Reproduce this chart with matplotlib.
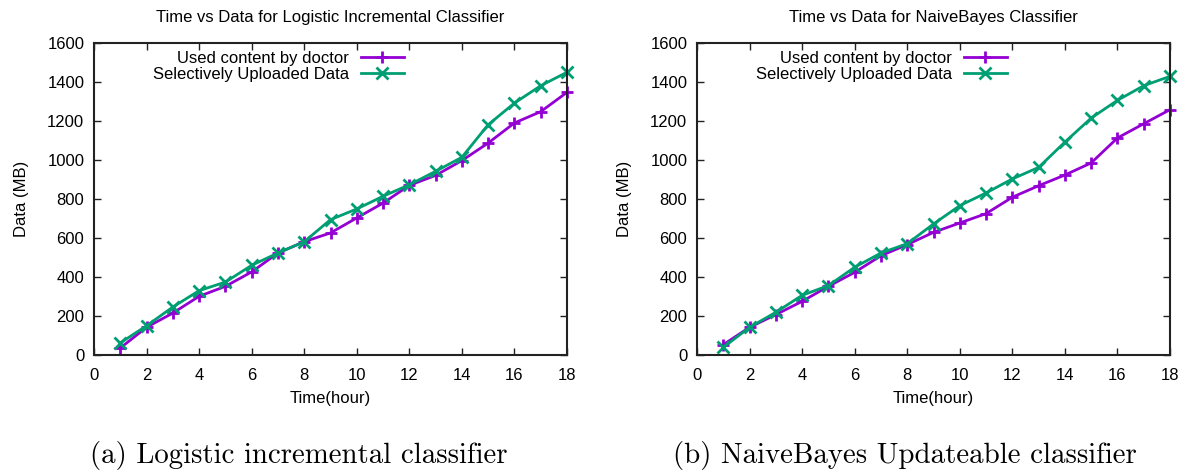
import matplotlib
matplotlib.use("Agg")
import matplotlib.pyplot as plt

hours = list(range(1, 19))

# Left: Logistic incremental classifier
log_used = [36, 142, 215, 301, 352, 426, 523, 581, 626, 703, 779, 870, 921, 997, 1087, 1190, 1248, 1347]
log_upload = [62, 150, 246, 330, 374, 460, 523, 581, 694, 749, 814, 873, 942, 1014, 1181, 1292, 1381, 1450]

# Right: NaiveBayes Updateable classifier
nb_used = [53, 142, 207, 275, 352, 424, 509, 566, 629, 677, 725, 809, 868, 923, 985, 1113, 1186, 1258]
nb_upload = [39, 142, 219, 306, 356, 450, 523, 571, 672, 766, 831, 903, 962, 1092, 1215, 1306, 1381, 1429]

titles = ["Time vs Data for Logistic Incremental Classifier",
          "Time vs Data for NaiveBayes Classifier"]
captions = ["(a) Logistic incremental classifier",
            "(b) NaiveBayes Updateable classifier"]
series_labels = ["Used content by doctor", "Selectively Uploaded Data"]
xticks = list(range(0, 19, 2))
yticks = list(range(0, 1601, 200))

PURPLE = "#9400D3"
GREEN = "#009E73"
FONT = ["Liberation Sans", "DejaVu Sans"]
FS = 12

W, H = 1187, 473
fig = plt.figure(figsize=(W / 100, H / 100), dpi=100)

axes_px = [(94, 43, 473, 312), (697, 43, 473, 312)]
data = [(log_used, log_upload), (nb_used, nb_upload)]
cap_x = [299, 905]

for i, (x0, y0, w, h) in enumerate(axes_px):
    ax = fig.add_axes([x0 / W, 1 - (y0 + h) / H, w / W, h / H])
    used, upload = data[i]
    ax.plot(hours, used, color=PURPLE, lw=2, marker="+", ms=9, mew=2,
            label=series_labels[0], clip_on=False)
    ax.plot(hours, upload, color=GREEN, lw=2, marker="x", ms=8, mew=2,
            label=series_labels[1], clip_on=False)
    ax.set_xlim(0, 18)
    ax.set_ylim(0, 1600)
    ax.set_xticks(xticks)
    ax.set_yticks(yticks)
    ax.tick_params(direction="in", top=True, right=True, length=5, width=1,
                   labelsize=FS, color="#222222")
    ax.tick_params(axis="x", pad=9)
    ax.tick_params(axis="y", pad=7)
    for lab in ax.get_xticklabels() + ax.get_yticklabels():
        lab.set_family(FONT)
    for sp in ax.spines.values():
        sp.set_linewidth(1.5)
        sp.set_color("#222222")
    ax.set_title(titles[i], fontsize=FS, family=FONT, pad=15)
    ax.set_xlabel("Time(hour)", fontsize=FS, family=FONT, labelpad=6)
    ax.set_ylabel("Data (MB)", fontsize=FS, family=FONT, labelpad=13)
    leg = ax.legend(loc="upper right", bbox_to_anchor=(0.687, 1.022),
                    frameon=False, markerfirst=False,
                    handlelength=2.6, handletextpad=0.7, labelspacing=0.05,
                    prop={"family": FONT, "size": FS})
    fig.text(cap_x[i] / W, 1 - 455 / H, captions[i], family="cmr10",
             fontsize=20.8, ha="center", va="center")

fig.savefig("out.png", dpi=100)
